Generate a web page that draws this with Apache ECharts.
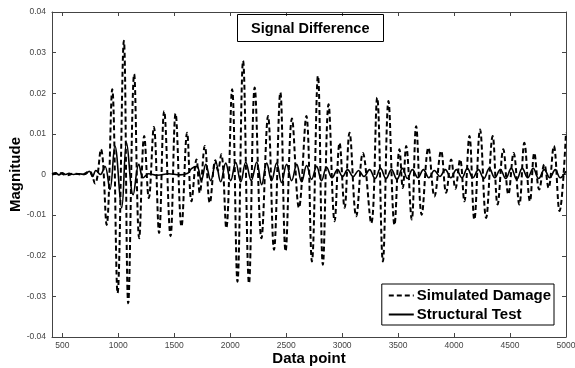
<!DOCTYPE html>
<html>
<head>
<meta charset="utf-8">
<script src="https://cdn.jsdelivr.net/npm/echarts@6/dist/echarts.min.js"></script>
<style>
  html, body { margin: 0; padding: 0; background: #fff; }
  #chart { width: 575px; height: 368px; }
</style>
</head>
<body>
<div id="chart"></div>
<script>
// 读图得到的峰谷点 (Data point, Magnitude)
var damageX = [408, 480, 540, 600, 680, 741, 792, 845, 896, 946, 994, 1050, 1089, 1142, 1187, 1232, 1273, 1318, 1365, 1410,
    1467, 1512, 1565, 1615, 1654, 1699, 1728, 1773, 1818, 1868, 1890, 1920, 1965, 2017, 2065, 2115, 2168, 2219, 2279, 2338,
    2391, 2448, 2495, 2552, 2614, 2680, 2730, 2784, 2828, 2879, 2933, 2977, 3022, 3066, 3126, 3185, 3260, 3313, 3364, 3414,
    3468, 3512, 3542, 3572, 3622, 3661, 3711, 3771, 3825, 3884, 3929, 3974, 4012, 4054, 4092, 4137, 4181, 4232, 4286, 4345,
    4389, 4440, 4485, 4532, 4583, 4628, 4678, 4717, 4761, 4806, 4844, 4891, 4942, 5000];
var damageY = [0, 0.0003, -0.0002, 0.0002, 0, 0.0008, -0.0022, 0.0062, -0.0124, 0.021, -0.0292, 0.0329, -0.0317, 0.0247, -0.0157, 0.0095, -0.0058, 0.0117, -0.0144, 0.0156,
    -0.0152, 0.015, -0.0128, 0.0103, -0.0066, 0.0037, -0.0045, 0.007, -0.007, 0.0035, 0.001, 0.005, -0.0132, 0.021, -0.0264, 0.028, -0.0268, 0.0214, -0.0157, 0.0144,
    -0.0185, 0.0202, -0.0189, 0.0138, -0.0082, 0.0144, -0.0214, 0.0243, -0.0222, 0.0173, -0.0115, 0.0078, -0.0082, 0.0103, -0.0103, 0.0053, -0.012, 0.0189, -0.0214, 0.0181,
    -0.0124, 0.0062, -0.0033, 0.007, -0.0111, 0.0119, -0.0099, 0.0066, -0.0054, 0.0058, -0.0045, 0.0037, -0.0035, 0.0037, -0.0066, 0.0095, -0.0111, 0.0111, -0.0107, 0.0095,
    -0.0074, 0.0062, -0.0049, 0.0053, -0.0074, 0.0078, -0.0066, 0.0053, -0.0037, 0.0025, -0.0033, 0.007, -0.009, 0.0103];

var testX = [408, 440, 470, 500, 530, 560, 600, 650, 700, 741, 770, 800, 840, 881, 925, 970, 1030, 1074, 1133, 1184,
    1223, 1270, 1350, 1450, 1550, 1620, 1657, 1702, 1742, 1782, 1826, 1871, 1915, 1960, 2004, 2049, 2094, 2139, 2188, 2237,
    2281, 2326, 2370, 2415, 2459, 2504, 2549, 2594, 2638, 2683, 2727, 2772, 2816, 2861, 2910, 2959, 3004, 3049, 3098, 3147,
    3196, 3245, 3294, 3343, 3392, 3441, 3490, 3539, 3583, 3628, 3677, 3726, 3775, 3824, 3873, 3922, 3971, 4021, 4070, 4119,
    4168, 4217, 4266, 4315, 4364, 4413, 4462, 4511, 4560, 4609, 4658, 4707, 4756, 4806, 4855, 4904, 4948, 5000];
var testY = [0.0002, 0.0004, -0.0001, 0.0004, 0, 0.0003, 0, 0.0002, 0, 0.0008, -0.0005, 0.001, 0, 0.002, -0.0037, 0.007, -0.0082, 0.0078, -0.005, 0.0025,
    -0.0008, 0.0002, -0.0002, 0.0002, -0.0001, 0.0003, 0.0015, 0.002, -0.0015, 0.0025, -0.0015, 0.003, -0.0018, 0.0028, -0.0015, 0.003, -0.0018, 0.003, -0.0015, 0.003,
    -0.0025, 0.0028, -0.0015, 0.0028, -0.002, 0.0025, -0.0015, 0.0025, -0.0018, 0.0022, -0.0012, 0.002, -0.0015, 0.0018, -0.0008, 0.0012, -0.0005, 0.0012, -0.0005, 0.001,
    -0.0005, 0.0012, -0.001, 0.0015, -0.001, 0.0012, -0.0012, 0.0015, -0.001, 0.0012, -0.0008, 0.0012, -0.0008, 0.001, -0.0005, 0.0012, -0.0008, 0.0012, -0.0008, 0.0015,
    -0.0008, 0.0012, -0.001, 0.0015, -0.0008, 0.0012, -0.001, 0.0015, -0.0012, 0.0015, -0.0008, 0.0015, -0.001, 0.0012, -0.0008, 0.0012, -0.0008, 0.0008];

var xTicks = [500, 1000, 1500, 2000, 2500, 3000, 3500, 4000, 4500, 5000];
var xMin = 408, xMax = 5000;
var yMin = -0.04, yMax = 0.04, yStep = 0.01;

function pairs(xs, ys) {
    var out = [];
    for (var i = 0; i < xs.length; i++) out.push([xs[i], ys[i]]);
    return out;
}

var font = 'Liberation Sans, Arial, sans-serif';
var boxLine = { show: true, onZero: false, lineStyle: { color: '#444', width: 1 } };

function xAxisCfg(pos, label) {
    return {
        type: 'value', position: pos, min: xMin, max: xMax,
        name: label ? 'Data point' : '', nameLocation: 'middle', nameGap: 14, nameMoveOverlap: false,
        nameTextStyle: { fontFamily: font, fontSize: 15, fontWeight: 'bold', color: '#000' },
        axisLine: boxLine,
        axisTick: { show: true, inside: true, length: 4, customValues: xTicks, lineStyle: { color: '#444' } },
        axisLabel: {
            show: label, customValues: xTicks, margin: 4, fontFamily: font, fontSize: 8.5, color: '#444',
            formatter: function (v) { return String(v); }
        },
        splitLine: { show: false }
    };
}
function yAxisCfg(pos, label) {
    return {
        type: 'value', position: pos, min: yMin, max: yMax, interval: yStep,
        name: label ? 'Magnitude' : '', nameLocation: 'middle', nameGap: 29, nameMoveOverlap: false,
        nameTextStyle: { fontFamily: font, fontSize: 15, fontWeight: 'bold', color: '#000' },
        axisLine: boxLine,
        axisTick: { show: true, inside: true, length: 4, lineStyle: { color: '#444' } },
        axisLabel: { show: label, margin: 6, fontFamily: font, fontSize: 8.5, color: '#444' },
        splitLine: { show: false }
    };
}

var myChart = echarts.init(document.getElementById('chart'), null, { renderer: 'canvas' });
myChart.setOption({
    animation: false,
    backgroundColor: '#fff',
    title: {
        text: 'Signal Difference',
        left: 237, top: 14,
        padding: [7, 14, 6, 14],
        borderWidth: 1, borderColor: '#000',
        textStyle: { fontFamily: font, fontSize: 14.5, fontWeight: 'bold', color: '#000' }
    },
    legend: {
        orient: 'vertical',
        right: 21, bottom: 43,
        padding: [4, 3, 3, 6],
        itemWidth: 25, itemHeight: 14, itemGap: 4,
        backgroundColor: '#fff',
        borderWidth: 1, borderColor: '#000', borderRadius: 0,
        itemStyle: { opacity: 0 },
        textStyle: { fontFamily: font, fontSize: 15, fontWeight: 'bold', color: '#000', padding: [0, 0, 0, -2] },
        data: ['Simulated Damage', 'Structural Test']
    },
    grid: { left: 52, right: 9, top: 12, bottom: 31, containLabel: false, outerBoundsMode: 'none' },
    xAxis: [xAxisCfg('bottom', true), xAxisCfg('top', false)],
    yAxis: [yAxisCfg('left', true), yAxisCfg('right', false)],
    series: [
        {
            name: 'Simulated Damage', type: 'line',
            data: pairs(damageX, damageY),
            smooth: 0.4, showSymbol: false, symbol: 'none',
            lineStyle: { color: '#000', width: 2, type: [5, 3] },
            itemStyle: { color: '#000' }
        },
        {
            name: 'Structural Test', type: 'line',
            data: pairs(testX, testY),
            smooth: 0.4, showSymbol: false, symbol: 'none',
            lineStyle: { color: '#000', width: 1.6 },
            itemStyle: { color: '#000' }
        }
    ]
});
</script>
</body>
</html>
